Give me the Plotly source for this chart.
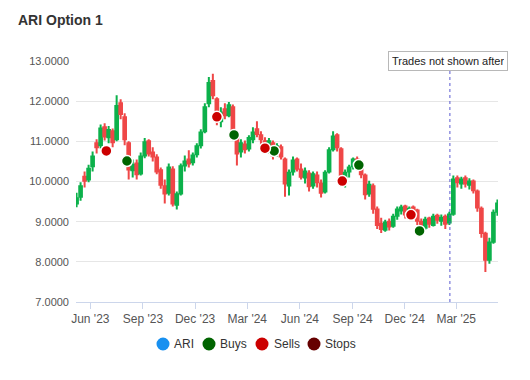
import pandas as pd
import plotly.graph_objects as go

# Weekly OHLC (week starting 2023-05-08)
opens = [9.45, 9.62, 10.12, 10.05, 10.38, 10.95, 10.90, 11.35, 11.10, 11.25,
         11.05, 11.95, 11.60, 10.95, 10.28, 10.45, 10.20, 10.65, 11.00, 10.72,
         10.60, 10.28, 9.88, 9.72, 10.30, 9.42, 9.70, 10.40, 10.55, 10.48,
         10.68, 10.90, 11.25, 11.95, 12.50, 12.05, 11.50, 11.80, 11.65, 11.85,
         11.20, 10.75, 10.92, 10.82, 11.05, 11.30, 11.15, 11.00, 10.82, 10.95,
         10.70, 10.85, 10.55, 9.90, 10.25, 10.55, 10.30, 10.10, 10.20, 9.90,
         10.15, 9.95, 9.75, 10.25, 10.80, 11.15, 10.80, 10.12, 10.25, 10.38,
         10.55, 10.45, 10.15, 9.70, 9.88, 9.30, 8.95, 8.80, 9.00, 8.90,
         9.15, 9.28, 9.38, 9.15, 9.35, 9.28, 9.00, 8.85, 9.08, 8.92,
         9.15, 9.02, 9.12, 8.98, 9.20, 10.08, 9.95, 10.08, 9.92, 10.00,
         9.75, 9.32, 8.70, 8.05, 8.50, 9.25]
highs = [9.72, 9.98, 10.25, 10.42, 10.75, 11.05, 11.42, 11.45, 11.38, 11.32,
         12.15, 12.05, 11.70, 11.00, 10.55, 10.55, 10.72, 11.08, 11.05, 10.85,
         10.68, 10.35, 10.05, 10.45, 10.38, 9.75, 10.45, 10.65, 10.78, 10.72,
         10.95, 11.30, 11.95, 12.60, 12.68, 12.10, 11.85, 11.95, 11.98, 11.92,
         11.28, 11.05, 11.02, 11.15, 11.35, 11.50, 11.25, 11.10, 11.08, 11.02,
         10.95, 10.92, 10.60, 10.30, 10.62, 10.60, 10.45, 10.35, 10.28, 10.25,
         10.25, 10.05, 10.28, 10.85, 11.25, 11.20, 10.85, 10.30, 10.42, 10.60,
         10.62, 10.52, 10.20, 10.02, 9.95, 9.38, 9.10, 9.05, 9.08, 9.20,
         9.38, 9.42, 9.42, 9.38, 9.40, 9.32, 9.08, 9.12, 9.12, 9.20,
         9.20, 9.18, 9.18, 9.25, 10.15, 10.15, 10.12, 10.15, 10.08, 10.05,
         9.80, 9.38, 8.75, 8.60, 9.30, 9.55]
lows = [9.36, 9.52, 9.85, 9.98, 10.25, 10.70, 10.82, 11.02, 10.95, 10.85,
        11.00, 11.55, 10.90, 10.05, 10.10, 10.05, 10.15, 10.58, 10.62, 10.50,
        10.18, 9.82, 9.45, 9.65, 9.38, 9.30, 9.65, 10.25, 10.35, 10.40,
        10.60, 10.82, 11.20, 11.85, 12.05, 11.40, 11.35, 11.55, 11.60, 11.15,
        10.40, 10.60, 10.70, 10.75, 10.95, 11.10, 10.85, 10.75, 10.70, 10.55,
        10.62, 10.55, 9.62, 9.65, 10.15, 10.25, 10.05, 9.95, 9.75, 9.82,
        9.85, 9.60, 9.70, 10.20, 10.75, 10.75, 10.00, 9.85, 10.10, 10.30,
        10.40, 10.08, 9.55, 9.62, 9.20, 8.82, 8.72, 8.75, 8.78, 8.85,
        9.05, 9.18, 9.08, 9.10, 9.15, 8.92, 8.70, 8.80, 8.85, 8.88,
        8.95, 8.90, 8.82, 8.92, 9.15, 9.85, 9.82, 9.85, 9.80, 9.70,
        9.25, 8.60, 7.75, 7.95, 8.45, 9.15]
closes = [9.58, 9.88, 10.02, 10.32, 10.62, 10.85, 11.32, 11.12, 11.28, 10.98,
          11.88, 11.68, 11.05, 10.30, 10.42, 10.18, 10.62, 10.98, 10.70, 10.62,
          10.25, 9.92, 9.70, 10.35, 9.45, 9.68, 10.38, 10.50, 10.45, 10.65,
          10.88, 11.22, 11.85, 12.45, 12.15, 11.55, 11.72, 11.65, 11.90, 11.25,
          10.70, 10.95, 10.80, 11.08, 11.22, 11.18, 11.05, 10.85, 11.00, 10.65,
          10.88, 10.62, 9.95, 10.22, 10.52, 10.32, 10.12, 10.25, 9.88, 10.18,
          9.98, 9.72, 10.22, 10.78, 11.12, 10.85, 10.15, 10.22, 10.35, 10.55,
          10.48, 10.18, 9.68, 9.92, 9.32, 8.92, 8.82, 8.98, 8.88, 9.12,
          9.30, 9.35, 9.18, 9.32, 9.25, 9.02, 8.88, 9.05, 8.95, 9.12,
          9.05, 9.10, 8.95, 9.18, 10.05, 9.98, 10.05, 9.95, 10.00, 9.78,
          9.35, 8.72, 8.05, 8.48, 9.22, 9.45]
dates = pd.date_range("2023-05-08", periods=len(closes), freq="7D")

buy_dates = ["2023-08-04", "2024-02-07", "2024-04-17", "2024-09-12", "2024-12-27"]
buy_prices = [10.51, 11.16, 10.76, 10.41, 8.77]
sell_dates = ["2023-06-29", "2024-01-08", "2024-04-01", "2024-08-14", "2024-12-12"]
sell_prices = [10.76, 11.61, 10.83, 10.01, 9.17]

cutoff_date = "2025-02-18"
tick_vals = ["2023-06-01", "2023-09-01", "2023-12-01", "2024-03-01",
             "2024-06-01", "2024-09-01", "2024-12-01", "2025-03-01"]
tick_text = ["Jun '23", "Sep '23", "Dec '23", "Mar '24",
             "Jun '24", "Sep '24", "Dec '24", "Mar '25"]
y_ticks = [7, 8, 9, 10, 11, 12, 13]

legend_names = ["ARI", "Buys", "Sells", "Stops"]
legend_colors = ["#1890f0", "#006400", "#cc0000", "#660000"]

GREEN = "#0cb14b"
RED = "#ef4747"
FONT = "Liberation Sans, Arial, sans-serif"

# figure geometry (page body has an 8px margin)
W, H = 522, 372
L, R, T, B = 68, 32, 53, 78
PW, PH = W - L - R, H - T - B


def px_x(x):
    return (x - L) / PW


def px_y(y):
    return (H - B - y) / PH


fig = go.Figure()
fig.add_trace(go.Candlestick(
    x=dates, open=opens, high=highs, low=lows, close=closes,
    name="ARI", showlegend=False, whiskerwidth=0,
    increasing=dict(line=dict(color=GREEN, width=2), fillcolor=GREEN),
    decreasing=dict(line=dict(color=RED, width=2), fillcolor=RED),
))
fig.add_trace(go.Scatter(x=pd.to_datetime(buy_dates), y=buy_prices, mode="markers",
                         name="Buys", showlegend=False,
                         marker=dict(color=legend_colors[1], size=11,
                                     line=dict(color="white", width=1.5))))
fig.add_trace(go.Scatter(x=pd.to_datetime(sell_dates), y=sell_prices, mode="markers",
                         name="Sells", showlegend=False,
                         marker=dict(color=legend_colors[2], size=11,
                                     line=dict(color="white", width=1.5))))

# legend drawn as circles + labels (compact Highcharts-like layout)
legend_sym_x = [155, 201, 254, 306]
legend_txt_x = [164, 210, 264, 315]
legend_y = 336
for name, col, sx, tx in zip(legend_names, legend_colors, legend_sym_x, legend_txt_x):
    fig.add_shape(type="circle", xref="paper", yref="paper",
                  xsizemode="pixel", ysizemode="pixel",
                  xanchor=px_x(sx), yanchor=px_y(legend_y),
                  x0=-6.5, x1=6.5, y0=-6.5, y1=6.5,
                  fillcolor=col, line=dict(width=0))
    fig.add_annotation(xref="paper", yref="paper", x=px_x(tx), y=px_y(legend_y),
                       xanchor="left", yanchor="middle", showarrow=False,
                       text=name, font=dict(size=12, color="#333333", family=FONT))

fig.add_shape(type="line", xref="x", yref="paper",
              x0=cutoff_date, x1=cutoff_date, y0=0, y1=1,
              line=dict(color="#5a5ad0", width=1, dash="dot"))
fig.add_annotation(xref="paper", yref="paper", x=px_x(380), y=px_y(43),
                   xanchor="left", yanchor="top", showarrow=False,
                   text="Trades not shown after", align="left", width=112,
                   font=dict(size=11, color="#222222", family=FONT),
                   bgcolor="white", bordercolor="#b8b8b8", borderwidth=1,
                   borderpad=3)

fig.update_layout(
    width=W, height=H,
    margin=dict(l=L, r=R, t=T, b=B),
    paper_bgcolor="white", plot_bgcolor="white",
    font=dict(family=FONT, color="#666666"),
    title=dict(text="<b>ARI Option 1</b>", x=10 / W, xanchor="left",
               y=1 - 12 / H, yanchor="middle",
               font=dict(size=14, color="#333333", family=FONT)),
    showlegend=False,
    boxgap=0.05,
    xaxis=dict(type="date", range=["2023-05-07", "2025-05-13"],
               rangeslider=dict(visible=False),
               tickvals=tick_vals, ticktext=tick_text,
               ticks="outside", ticklen=6, tickcolor="#ccd6eb",
               showline=True, linecolor="#ccd6eb", showgrid=False,
               tickfont=dict(size=12, color="#555555")),
    yaxis=dict(range=[7, 13], tickvals=y_ticks, tickformat=".4f",
               showgrid=True, gridcolor="#e6e6e6", zeroline=False,
               ticklabelstandoff=6,
               tickfont=dict(size=11, color="#555555")),
)

fig.write_html("out.html")
